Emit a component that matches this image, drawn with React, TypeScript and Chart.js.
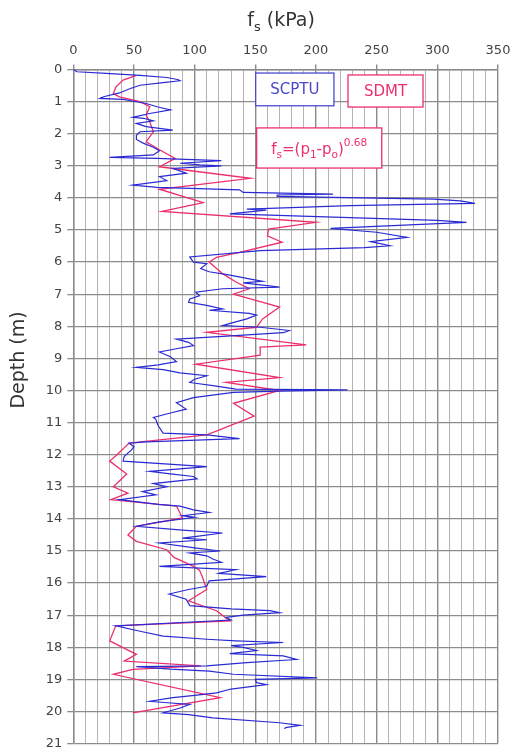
import { useEffect, useRef } from 'react';
import { Chart, registerables } from 'chart.js';

Chart.register(...registerables);

// SCPTU sleeve friction trace (depth m, fs kPa)
const scptuDepth = [
  0.0, 0.07, 0.12, 0.18, 0.25, 0.31, 0.35, 0.41, 0.49, 0.59, 0.73, 0.85, 0.9, 0.93, 1.06, 1.16, 1.26, 1.37, 1.49, 1.52,
  1.6, 1.68, 1.78, 1.89, 1.94, 2.05, 2.18, 2.3, 2.42, 2.53, 2.66, 2.74, 2.77, 2.84, 2.92, 2.97, 3.0, 3.08, 3.23, 3.34,
  3.46, 3.6, 3.67, 3.75, 3.83, 3.88, 3.91, 3.95, 4.04, 4.09, 4.17, 4.24, 4.35, 4.38, 4.5, 4.7, 4.76, 4.95, 5.07, 5.23,
  5.36, 5.49, 5.55, 5.64, 5.84, 6.0, 6.05, 6.2, 6.3, 6.4, 6.52, 6.6, 6.65, 6.78, 6.83, 6.94, 7.05, 7.15, 7.25, 7.35,
  7.46, 7.5, 7.6, 7.65, 7.77, 7.9, 7.98, 8.03, 8.13, 8.2, 8.3, 8.4, 8.5, 8.6, 8.7, 8.8, 8.95, 9.1, 9.2, 9.28,
  9.35, 9.45, 9.54, 9.65, 9.75, 9.85, 9.96, 9.98, 10.02, 10.06, 10.22, 10.38, 10.58, 10.7, 10.84, 10.9, 11.1, 11.33, 11.38, 11.5,
  11.6, 11.64, 11.75, 11.85, 12.05, 12.2, 12.37, 12.52, 12.6, 12.68, 12.75, 12.9, 13.0, 13.15, 13.25, 13.4, 13.55, 13.6, 13.72, 13.8,
  13.9, 13.95, 14.1, 14.23, 14.35, 14.44, 14.55, 14.6, 14.65, 14.75, 14.9, 15.0, 15.06, 15.15, 15.25, 15.35, 15.48, 15.58, 15.7, 15.8,
  15.93, 16.1, 16.2, 16.34, 16.5, 16.7, 16.8, 16.86, 16.92, 17.0, 17.07, 17.15, 17.33, 17.5, 17.65, 17.75, 17.8, 17.85, 17.95, 18.0,
  18.1, 18.2, 18.27, 18.38, 18.48, 18.58, 18.6, 18.68, 18.74, 18.84, 18.95, 19.0, 19.1, 19.16, 19.3, 19.42, 19.5, 19.57, 19.68, 19.72,
  19.78, 19.89, 20.04, 20.1, 20.2, 20.35, 20.43, 20.5, 20.54,
];
const scptuFs = [
  0, 3, 27, 55, 77, 86, 88, 74, 55, 47, 38, 25, 22, 41, 60, 69, 80, 63, 49, 58,
  66, 52, 60, 82, 55, 52, 52, 58, 66, 71, 66, 30, 69, 122, 88, 104, 122, 82, 93, 71,
  77, 49, 69, 137, 140, 214, 168, 168, 297, 319, 331, 228, 143, 159, 129, 300, 324, 212, 250, 275,
  245, 261, 240, 154, 96, 99, 110, 105, 112, 128, 145, 156, 140, 170, 123, 101, 104, 96, 95, 110,
  123, 112, 145, 151, 143, 130, 123, 154, 178, 173, 130, 85, 95, 99, 85, 71, 80, 85, 70, 52,
  74, 88, 110, 100, 96, 115, 134, 226, 170, 132, 99, 85, 93, 80, 66, 68, 70, 74, 110, 137,
  60, 46, 50, 48, 42, 41, 110, 63, 80, 99, 102, 66, 77, 57, 68, 38, 70, 88, 99, 112,
  90, 100, 70, 52, 90, 123, 100, 90, 110, 71, 100, 121, 96, 110, 115, 122, 71, 134, 120, 159,
  112, 110, 95, 79, 93, 96, 130, 162, 170, 140, 126, 130, 35, 55, 74, 110, 134, 173, 130, 140,
  151, 129, 173, 184, 143, 110, 52, 80, 112, 132, 201, 150, 151, 159, 130, 118, 100, 82, 63, 75,
  96, 88, 74, 95, 115, 170, 187, 175, 174,
];

// SDMT estimated sleeve friction (depth m, fs kPa)
const sdmtDepth = [
  0.18, 0.33, 0.55, 0.75, 0.85, 1.0, 1.16, 1.42, 1.63, 1.94, 2.25, 2.5, 2.77, 3.03, 3.39, 3.73, 4.15, 4.42, 4.76, 4.97,
  5.18, 5.38, 5.7, 5.85, 6.0, 6.36, 6.62, 6.83, 7.0, 7.2, 7.4, 7.77, 8.03, 8.19, 8.58, 8.65, 8.9, 9.18, 9.6, 9.75,
  10.0, 10.4, 10.8, 11.38, 11.64, 12.0, 12.2, 12.6, 13.0, 13.2, 13.4, 13.6, 13.97, 14.23, 14.5, 14.7, 14.96, 15.2, 15.48, 15.6,
  15.77, 16.2, 16.55, 16.86, 17.18, 17.33, 17.8, 18.22, 18.43, 18.58, 18.69, 18.84, 19.57, 20.04,
];
const sdmtFs = [
  52, 41, 35, 33, 38, 55, 63, 60, 63, 66, 60, 71, 84, 71, 146, 71, 107, 73, 200, 161,
  160, 172, 137, 118, 112, 123, 134, 145, 132, 151, 170, 156, 151, 110, 192, 154, 154, 101, 170, 126,
  170, 132, 149, 110, 46, 36, 30, 44, 33, 45, 31, 85, 90, 52, 45, 52, 77, 83, 99, 104,
  106, 110, 95, 118, 129, 35, 30, 52, 42, 105, 49, 33, 121, 49,
];

const xMin = 0;
const xMax = 350;
const xLabelStep = 50;
const xGridStep = 10;
const yMin = 0;
const yMax = 21;

const BLUE = '#2a2ad4';
const PINK = '#ec2f6c';
const FONT = '"DejaVu Sans", sans-serif';

const overlayPlugin = {
  id: 'overlay',
  afterDraw(chart: any) {
    const ctx = chart.ctx as CanvasRenderingContext2D;
    const xs = chart.scales.x;
    const ys = chart.scales.y;
    ctx.save();
    // top title f_s (kPa)
    ctx.fillStyle = '#333';
    ctx.textBaseline = 'alphabetic';
    const big = `19px ${FONT}`;
    const small = `13px ${FONT}`;
    ctx.font = big;
    const wf = ctx.measureText('f').width;
    const wr = ctx.measureText(' (kPa)').width;
    ctx.font = small;
    const ws = ctx.measureText('s').width;
    const total = wf + ws + wr;
    let tx = 281 - total / 2;
    const ty = 26;
    ctx.font = big;
    ctx.fillText('f', tx, ty);
    tx += wf;
    ctx.font = small;
    ctx.fillText('s', tx, ty + 5);
    tx += ws;
    ctx.font = big;
    ctx.fillText(' (kPa)', tx, ty);

    // y title
    ctx.save();
    ctx.translate(24, 360);
    ctx.rotate(-Math.PI / 2);
    ctx.textAlign = 'center';
    ctx.font = big;
    ctx.fillText('Depth (m)', 0, 0);
    ctx.restore();

    const box = (x0: number, x1: number, y0: number, y1: number, color: string) => {
      const px0 = xs.getPixelForValue(x0);
      const px1 = xs.getPixelForValue(x1);
      const py0 = ys.getPixelForValue(y0);
      const py1 = ys.getPixelForValue(y1);
      ctx.fillStyle = '#fff';
      ctx.fillRect(px0, py0, px1 - px0, py1 - py0);
      ctx.strokeStyle = color;
      ctx.lineWidth = 1.3;
      ctx.strokeRect(px0, py0, px1 - px0, py1 - py0);
      return { cx: (px0 + px1) / 2, cy: (py0 + py1) / 2, left: px0 };
    };

    const b1 = box(150.3, 214.8, 0.11, 1.13, '#4a4ad0');
    ctx.font = `15px ${FONT}`;
    ctx.textAlign = 'center';
    ctx.textBaseline = 'middle';
    ctx.fillStyle = '#4848c8';
    ctx.fillText('SCPTU', b1.cx, b1.cy + 1);

    const b2 = box(226.4, 288.2, 0.17, 1.17, PINK);
    ctx.fillStyle = PINK;
    ctx.fillText('SDMT', b2.cx, b2.cy + 1);

    const b3 = box(151.1, 254.2, 1.82, 3.07, PINK);
    // formula f_s=(p_1-p_o)^0.68
    ctx.textAlign = 'left';
    ctx.textBaseline = 'alphabetic';
    const parts: [string, 'n' | 'sub' | 'sup'][] = [
      ['f', 'n'], ['s', 'sub'], ['=(p', 'n'], ['1', 'sub'], ['-p', 'n'], ['o', 'sub'], [')', 'n'], ['0.68', 'sup'],
    ];
    const fN = `15px ${FONT}`;
    const fS = `10.5px ${FONT}`;
    let w = 0;
    for (const [t, k] of parts) {
      ctx.font = k === 'n' ? fN : fS;
      w += ctx.measureText(t).width;
    }
    let fx = b3.cx - w / 2;
    const fy = b3.cy + 6;
    ctx.fillStyle = PINK;
    for (const [t, k] of parts) {
      ctx.font = k === 'n' ? fN : fS;
      const dy = k === 'sub' ? 4 : k === 'sup' ? -8 : 0;
      ctx.fillText(t, fx, fy + dy);
      fx += ctx.measureText(t).width;
    }
    ctx.restore();
  },
};

export default function App() {
  const ref = useRef<HTMLCanvasElement | null>(null);
  useEffect(() => {
    document.body.style.margin = '0';
    if (!ref.current) return;
    const chart = new Chart(ref.current, {
      type: 'scatter',
      data: {
        datasets: [
          {
            label: 'SCPTU',
            data: scptuDepth.map((d, i) => ({ x: scptuFs[i], y: d })),
            showLine: true,
            borderColor: BLUE,
            backgroundColor: BLUE,
            borderWidth: 1.2,
            pointRadius: 0,
            tension: 0,
          },
          {
            label: 'SDMT',
            data: sdmtDepth.map((d, i) => ({ x: sdmtFs[i], y: d })),
            showLine: true,
            borderColor: PINK,
            backgroundColor: PINK,
            borderWidth: 1.3,
            pointRadius: 0,
            tension: 0,
          },
        ],
      },
      options: {
        animation: false,
        responsive: true,
        maintainAspectRatio: false,
        layout: { padding: { left: 0, right: 12, top: 0, bottom: 9.4 } },
        plugins: { legend: { display: false }, tooltip: { enabled: false }, title: { display: false } },
        scales: {
          x: {
            type: 'linear',
            position: 'top',
            min: xMin,
            max: xMax,
            afterFit: (s: any) => {
              s.height = 69.5;
              s.paddingLeft = 0;
              s.paddingRight = 0;
            },
            afterBuildTicks: (s: any) => {
              const t = [];
              for (let v = xMin; v <= xMax; v += xGridStep) t.push({ value: v });
              s.ticks = t;
            },
            ticks: {
              autoSkip: false,
              maxRotation: 0,
              padding: 6,
              color: '#444',
              font: { family: FONT, size: 13 },
              callback: (v: any) => (Number(v) % xLabelStep === 0 ? String(v) : ''),
            },
            grid: {
              color: (c: any) => (c.tick && c.tick.value % xLabelStep === 0 ? '#8a8a8a' : '#b4b4b4'),
              lineWidth: (c: any) => (c.tick && c.tick.value % xLabelStep === 0 ? 1.4 : 1),
              tickColor: (c: any) => (c.tick && c.tick.value % xLabelStep === 0 ? '#8a8a8a' : 'rgba(0,0,0,0)'),
              tickLength: 5,
            },
            border: { display: true, color: '#8a8a8a', width: 1.4 },
          },
          y: {
            type: 'linear',
            reverse: true,
            min: yMin,
            max: yMax,
            afterFit: (s: any) => {
              s.width = 73.3;
              s.paddingTop = 0;
              s.paddingBottom = 0;
            },
            ticks: {
              stepSize: 1,
              autoSkip: false,
              padding: 5,
              color: '#444',
              font: { family: FONT, size: 13 },
            },
            grid: { color: '#8c8c8c', lineWidth: 1.3, tickLength: 6, tickColor: '#8c8c8c' },
            border: { display: true, color: '#8a8a8a', width: 1.4 },
          },
        },
      },
      plugins: [overlayPlugin],
    } as any);
    return () => chart.destroy();
  }, []);
  return (
    <div style={{ position: 'absolute', left: 0, top: 0, width: 510, height: 753 }}>
      <canvas ref={ref} />
    </div>
  );
}
